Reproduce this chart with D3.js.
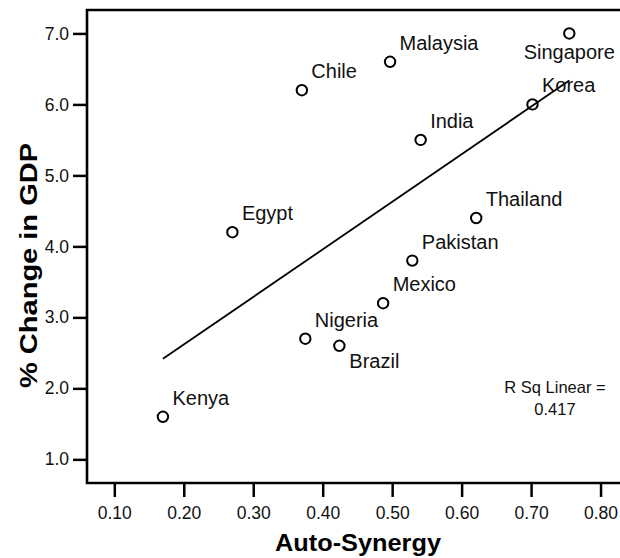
<!DOCTYPE html>
<html>
<head>
<meta charset="utf-8">
<script src="https://cdn.jsdelivr.net/npm/d3@7"></script>
<style>
  body { margin: 0; background: #fff; }
  svg { display: block; font-family: "Liberation Sans", Arial, Helvetica, sans-serif; }
</style>
</head>
<body>
<div id="grafico"></div>
<script>
// dados
const paises = ['Kenya','Egypt','Chile','Malaysia','Singapore','Korea','India','Thailand','Pakistan','Mexico','Nigeria','Brazil'];
const sinergia = [0.170, 0.270, 0.370, 0.497, 0.755, 0.702, 0.541, 0.621, 0.529, 0.487, 0.375, 0.424];
const pib = [1.6, 4.2, 6.2, 6.6, 7.0, 6.0, 5.5, 4.4, 3.8, 3.2, 2.7, 2.6];
const ticksX = [0.1, 0.2, 0.3, 0.4, 0.5, 0.6, 0.7, 0.8];
const ticksY = [1, 2, 3, 4, 5, 6, 7];
const rSq = '0.417';

const W = 620, H = 558;
const esq = 87, dir = 620, topo = 10, base = 483;

const svg = d3.select('#grafico').append('svg')
  .attr('width', W).attr('height', H);

const x = d3.scaleLinear().domain([0.0607, 0.828]).range([esq, dir]);
const y = d3.scaleLinear().domain([0.667, 7.33]).range([base, topo]);

// eixos
const eixoX = svg.append('g').attr('transform', `translate(0,${base})`)
  .call(d3.axisBottom(x).tickValues(ticksX).tickFormat(d3.format('.2f')).tickSize(14).tickPadding(10).tickSizeOuter(0));
const eixoY = svg.append('g').attr('transform', `translate(${esq},0)`)
  .call(d3.axisLeft(y).tickValues(ticksY).tickFormat(d3.format('.1f')).tickSize(14).tickPadding(4).tickSizeOuter(0));

[eixoX, eixoY].forEach(g => {
  g.select('.domain').remove();
  g.selectAll('line').attr('stroke', '#000').attr('stroke-width', 2.5);
  g.selectAll('text').attr('fill', '#111').style('font-size', '17.5px')
    .style('font-family', '"Liberation Sans", Arial, sans-serif');
});

// moldura (esquerda, topo, baixo)
svg.append('path')
  .attr('d', `M${dir},${topo}H${esq}V${base}H${dir}`)
  .attr('fill', 'none').attr('stroke', '#000').attr('stroke-width', 2.6);

// reta de regressao calculada dos pontos
const mx = d3.mean(sinergia), my = d3.mean(pib);
let sxy = 0, sxx = 0;
sinergia.forEach((v, i) => { sxy += (v - mx) * (pib[i] - my); sxx += (v - mx) ** 2; });
const b = sxy / sxx, a = my - b * mx;
const [x0, x1] = d3.extent(sinergia);
svg.append('line')
  .attr('x1', x(x0)).attr('y1', y(a + b * x0))
  .attr('x2', x(x1)).attr('y2', y(a + b * x1))
  .attr('stroke', '#000').attr('stroke-width', 1.8);

// pontos
const dados = paises.map((p, i) => ({ nome: p, sx: sinergia[i], gdp: pib[i] }));
svg.selectAll('circle.pto').data(dados).enter().append('circle')
  .attr('class', 'pto')
  .attr('cx', d => x(d.sx)).attr('cy', d => y(d.gdp))
  .attr('r', 5.2)
  .attr('fill', 'none').attr('stroke', '#000').attr('stroke-width', 2);

// rotulos
const desloc = { Singapore: [0, 26, 'middle'], Brazil: [10, 22, 'start'] };
svg.selectAll('text.rot').data(dados).enter().append('text')
  .attr('class', 'rot')
  .attr('x', d => x(d.sx) + (desloc[d.nome] ? desloc[d.nome][0] : 9.5))
  .attr('y', d => y(d.gdp) + (desloc[d.nome] ? desloc[d.nome][1] : -12))
  .attr('text-anchor', d => desloc[d.nome] ? desloc[d.nome][2] : 'start')
  .style('font-size', '20px').attr('fill', '#111')
  .text(d => d.nome);

// R quadrado
const rq = svg.append('text').attr('text-anchor', 'middle').style('font-size', '16.5px').attr('fill', '#111');
rq.append('tspan').attr('x', 555).attr('y', 393).text('R Sq Linear =');
rq.append('tspan').attr('x', 555).attr('y', 415).text(rSq);

// titulos
svg.append('text')
  .attr('x', 358).attr('y', 551)
  .attr('text-anchor', 'middle')
  .attr('textLength', 166).attr('lengthAdjust', 'spacingAndGlyphs')
  .style('font-size', '23px').style('font-weight', 'bold')
  .text('Auto-Synergy');

svg.append('text')
  .attr('transform', 'translate(36.5,265.5) rotate(-90)')
  .attr('text-anchor', 'middle')
  .attr('textLength', 245).attr('lengthAdjust', 'spacingAndGlyphs')
  .style('font-size', '24px').style('font-weight', 'bold')
  .text('% Change in GDP');
</script>
</body>
</html>
